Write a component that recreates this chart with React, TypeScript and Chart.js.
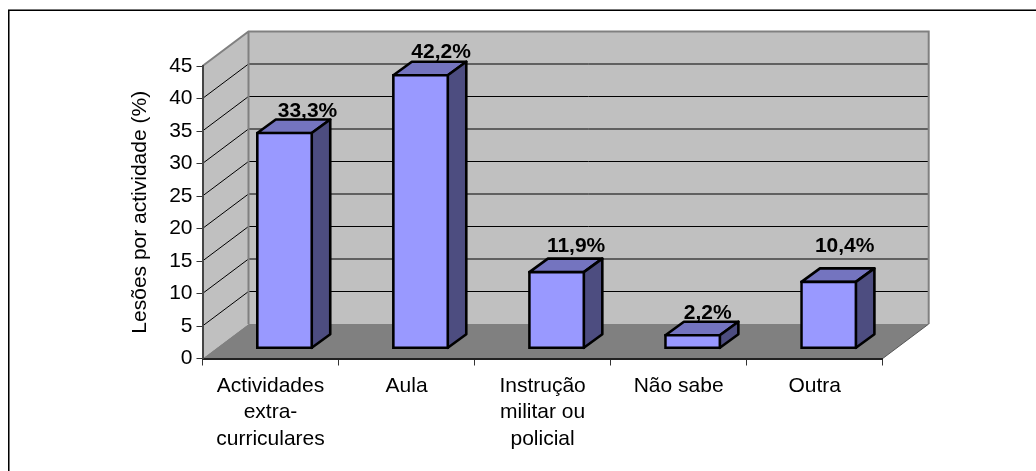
import React, { useEffect, useRef } from "react";
import { Chart, registerables } from "chart.js";

Chart.register(...registerables);

const categories = [["Actividades", "extra-", "curriculares"], ["Aula"], ["Instrução", "militar ou", "policial"], ["Não sabe"], ["Outra"]];
const values = [33.3, 42.2, 11.9, 2.2, 10.4];
const yMax = 45;
const yStep = 5;
const yTitle = "Lesões por actividade (%)";

const FONT = '"Liberation Sans", Arial, sans-serif';
const WALL_DX = 46;
const WALL_DY = 34.5;
const BAR_SHIFT_X = 14;
const BAR_SHIFT_Y = -9.6;
const BAR_DX = 18.5;
const BAR_DY = 13.5;
const labelNudgeX = [23, 20.5, 19.5, 15, 16];
const labelNudgeY = [15.5, 17, 20, 16, 29];

const scene = {
  id: "scene",
  beforeDraw(chart: any) {
    const { ctx, chartArea: a } = chart;
    const y = chart.scales.y;
    ctx.save();
    ctx.fillStyle = "#000";
    ctx.fillRect(8, 10, chart.width - 8, 1);
    ctx.fillRect(8, 10, 1, chart.height - 10);
    ctx.fillStyle = "#777";
    ctx.fillRect(8, 9, chart.width - 8, 1);
    ctx.fillRect(9, 11, 1, chart.height - 11);

    const bx0 = a.left + WALL_DX, bx1 = a.right + WALL_DX;
    const by0 = a.top - WALL_DY, by1 = a.bottom - WALL_DY;

    ctx.fillStyle = "#C0C0C0";
    ctx.fillRect(bx0, by0, bx1 - bx0, by1 - by0);
    ctx.beginPath();
    ctx.moveTo(a.left, a.top);
    ctx.lineTo(bx0, by0);
    ctx.lineTo(bx0, by1);
    ctx.lineTo(a.left, a.bottom);
    ctx.closePath();
    ctx.fill();

    ctx.strokeStyle = "#000";
    ctx.lineWidth = 1;
    for (let v = yStep; v < yMax; v += yStep) {
      const p = y.getPixelForValue(v);
      ctx.beginPath();
      ctx.moveTo(a.left, p);
      ctx.lineTo(bx0, p - WALL_DY);
      ctx.lineTo(bx1, p - WALL_DY);
      ctx.stroke();
    }

    ctx.fillStyle = "#808080";
    ctx.beginPath();
    ctx.moveTo(a.left, a.bottom);
    ctx.lineTo(a.right, a.bottom);
    ctx.lineTo(bx1, by1);
    ctx.lineTo(bx0, by1);
    ctx.closePath();
    ctx.fill();

    ctx.strokeStyle = "#808080";
    ctx.lineWidth = 2;
    ctx.beginPath();
    ctx.moveTo(a.left, a.top);
    ctx.lineTo(bx0, by0);
    ctx.lineTo(bx1, by0);
    ctx.lineTo(bx1, by1);
    ctx.moveTo(bx0, by0);
    ctx.lineTo(bx0, by1);
    ctx.stroke();
    ctx.strokeStyle = "#555";
    ctx.lineWidth = 1;
    ctx.beginPath();
    ctx.moveTo(a.right, a.bottom);
    ctx.lineTo(bx1, by1);
    ctx.stroke();
    ctx.restore();
  },
  beforeDatasetsDraw(chart: any) {
    const { ctx } = chart;
    const meta = chart.getDatasetMeta(0);
    ctx.save();
    ctx.strokeStyle = "#000";
    ctx.lineWidth = 2.6;
    ctx.lineJoin = "round";
    meta.data.forEach((el: any) => {
      const l = el.x - el.width / 2 + BAR_SHIFT_X + 0.6;
      const r = el.x + el.width / 2 + BAR_SHIFT_X - 0.6;
      const t = el.y + BAR_SHIFT_Y + 0.6;
      const b = el.base + BAR_SHIFT_Y - 0.6;
      ctx.fillStyle = "#7474BF";
      ctx.beginPath();
      ctx.moveTo(l, t);
      ctx.lineTo(l + BAR_DX, t - BAR_DY);
      ctx.lineTo(r + BAR_DX, t - BAR_DY);
      ctx.lineTo(r, t);
      ctx.closePath();
      ctx.fill();
      ctx.stroke();
      ctx.fillStyle = "#4D4D80";
      ctx.beginPath();
      ctx.moveTo(r, t);
      ctx.lineTo(r + BAR_DX, t - BAR_DY);
      ctx.lineTo(r + BAR_DX, b - BAR_DY);
      ctx.lineTo(r, b);
      ctx.closePath();
      ctx.fill();
      ctx.stroke();
    });
    ctx.restore();
  },
  beforeDatasetDraw(chart: any) {
    chart.ctx.save();
    chart.ctx.translate(BAR_SHIFT_X, BAR_SHIFT_Y);
  },
  afterDatasetDraw(chart: any) {
    chart.ctx.restore();
  },
  afterDatasetsDraw(chart: any) {
    const { ctx } = chart;
    const meta = chart.getDatasetMeta(0);
    ctx.save();
    ctx.fillStyle = "#000";
    ctx.font = `bold 21px ${FONT}`;
    ctx.textAlign = "center";
    ctx.textBaseline = "alphabetic";
    meta.data.forEach((el: any, i: number) => {
      const text = values[i].toFixed(1).replace(".", ",") + "%";
      ctx.fillText(text, el.x + BAR_SHIFT_X + labelNudgeX[i], el.y + BAR_SHIFT_Y - labelNudgeY[i]);
    });
    ctx.restore();
  },
};

export default function App() {
  const ref = useRef<HTMLCanvasElement>(null);
  useEffect(() => {
    const chart = new Chart(ref.current as HTMLCanvasElement, {
      type: "bar",
      data: {
        labels: categories as any,
        datasets: [
          {
            data: values,
            backgroundColor: "#9999FF",
            borderColor: "#000",
            borderWidth: 2.6,
            borderSkipped: false,
            inflateAmount: 0.7,
            barPercentage: 0.409,
            categoryPercentage: 1,
            clip: false,
          } as any,
        ],
      },
      options: {
        responsive: false,
        animation: false,
        devicePixelRatio: 1,
        layout: { padding: { left: 0, top: 66, right: 153.3, bottom: 0 } },
        plugins: { legend: { display: false }, tooltip: { enabled: false } },
        scales: {
          x: {
            offset: true,
            afterFit(s: any) {
              s.height = 112.5;
            },
            grid: { offset: true, drawOnChartArea: false, color: "#333", tickLength: 7, lineWidth: 1 },
            border: { color: "#222", width: 2 },
            ticks: {
              color: "#000",
              maxRotation: 0,
              autoSkip: false,
              padding: 7,
              font: { family: FONT, size: 21, lineHeight: 1.27 },
            },
          },
          y: {
            min: 0,
            max: yMax,
            afterFit(s: any) {
              s.width = 202.5;
            },
            grid: { drawOnChartArea: false, color: "#333", tickLength: 6, lineWidth: 1 },
            border: { color: "#444", width: 2 },
            ticks: {
              stepSize: yStep,
              color: "#000",
              padding: 4,
              font: { family: FONT, size: 21 },
            },
            title: {
              display: true,
              text: yTitle,
              color: "#000",
              padding: { top: 128, bottom: 0 },
              font: { family: FONT, size: 21, lineHeight: 1.2 },
            },
          },
        },
      },
      plugins: [scene],
    } as any);
    return () => chart.destroy();
  }, []);
  return (
    <canvas
      ref={ref}
      width={1036}
      height={471}
      style={{ position: "absolute", left: 0, top: 0, display: "block" }}
    />
  );
}
